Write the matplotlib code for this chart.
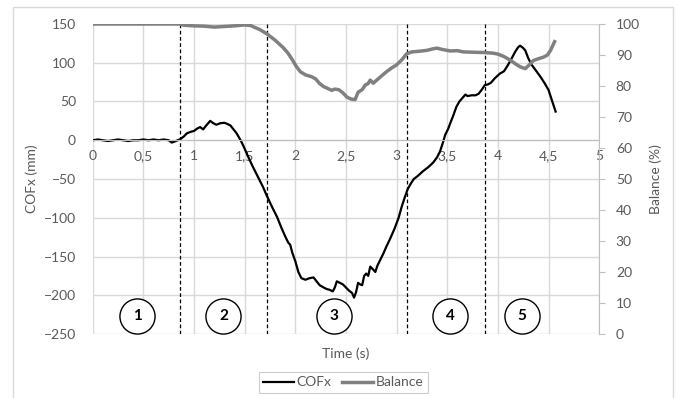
import matplotlib
matplotlib.use("Agg")
import matplotlib.pyplot as plt
from matplotlib.patches import Rectangle

plt.rcParams['font.family'] = ['Lato', 'DejaVu Sans']

# COFx (mm)
t_cofx = [0.00, 0.05, 0.10, 0.15, 0.20, 0.25, 0.30, 0.35, 0.40, 0.45, 0.50, 0.55, 0.60, 0.65,
          0.70, 0.75, 0.78, 0.82, 0.86, 0.90, 0.93, 0.97, 1.00, 1.03, 1.06, 1.09, 1.12, 1.16,
          1.19, 1.22, 1.26, 1.30, 1.33, 1.36, 1.39, 1.42, 1.46, 1.49, 1.53, 1.58, 1.63, 1.68,
          1.72, 1.77, 1.82, 1.86, 1.90, 1.93, 1.95, 1.97, 2.00, 2.03, 2.06, 2.10, 2.14, 2.18,
          2.21, 2.24, 2.28, 2.31, 2.34, 2.37, 2.39, 2.41, 2.44, 2.47, 2.50, 2.53, 2.56, 2.58,
          2.60, 2.62, 2.64, 2.66, 2.68, 2.70, 2.72, 2.74, 2.77, 2.79, 2.81, 2.84, 2.87, 2.90,
          2.94, 2.98, 3.02, 3.05, 3.08, 3.11, 3.14, 3.17, 3.21, 3.26, 3.31, 3.36, 3.40, 3.43,
          3.46, 3.48, 3.51, 3.53, 3.56, 3.59, 3.62, 3.66, 3.68, 3.70, 3.74, 3.78, 3.81, 3.84,
          3.87, 3.90, 3.93, 3.97, 4.02, 4.06, 4.09, 4.13, 4.17, 4.20, 4.22, 4.25, 4.27, 4.30,
          4.33, 4.37, 4.42, 4.46, 4.50, 4.53, 4.57]
cofx = [0, 1, 0, -1, 0, 1, 0, -1, 0, 0, 1, 0, 1, 0,
        1, 0, -3, -1, 1, 5, 9, 11, 12, 15, 17, 14, 19, 25,
        22, 20, 22, 22.5, 21, 19, 14, 9, 0, -8, -20, -34, -47, -60,
        -72, -86, -99, -112, -124, -132, -135, -145, -156, -170, -178, -180, -178, -177,
        -182, -187, -190, -192, -193, -195, -190, -182, -184, -186, -190, -194, -197, -203,
        -196, -184, -186, -187, -175, -172, -175, -163, -167, -170, -162, -154, -146, -137,
        -126, -114, -100, -86, -74, -63, -56, -50, -46, -40, -35, -29, -22, -14,
        -2, 7, 15, 22, 32, 43, 50, 56, 59, 57, 58, 58, 60, 65,
        71, 72, 74, 80, 86, 89, 95, 104, 114, 120, 122, 119, 116, 106,
        98, 91, 82, 74, 65, 53, 37]

# Balance (%)
t_bal = [0.00, 0.86, 0.90, 1.00, 1.10, 1.20, 1.30, 1.40, 1.50, 1.56, 1.60, 1.65, 1.72, 1.80,
         1.88, 1.93, 1.97, 2.01, 2.05, 2.10, 2.16, 2.20, 2.24, 2.28, 2.32, 2.36, 2.39, 2.43,
         2.47, 2.51, 2.55, 2.59, 2.62, 2.66, 2.69, 2.72, 2.74, 2.77, 2.80, 2.85, 2.90, 2.95,
         3.00, 3.05, 3.10, 3.15, 3.22, 3.30, 3.36, 3.40, 3.45, 3.53, 3.60, 3.66, 3.75, 3.86,
         3.95, 4.00, 4.06, 4.12, 4.18, 4.22, 4.27, 4.31, 4.35, 4.40, 4.45, 4.49, 4.52, 4.56]
balance = [100, 100, 99.6, 99.4, 99.3, 99.0, 99.2, 99.4, 99.7, 99.5, 98.9, 98.2, 96.8, 94.8,
           92.4, 90.5, 88.5, 86.3, 84.6, 83.6, 83.0, 82.3, 80.8, 79.8, 79.2, 78.6, 79.0, 78.8,
           77.8, 76.4, 75.8, 75.6, 78.0, 78.8, 80.3, 80.8, 81.9, 80.9, 81.8, 83.2, 84.6, 85.8,
           86.8, 88.4, 90.4, 91.0, 91.2, 91.5, 92.0, 92.2, 91.8, 91.3, 91.4, 91.0, 90.9, 90.8,
           90.6, 90.3, 89.5, 88.4, 87.0, 86.2, 85.6, 86.8, 88.2, 88.8, 89.3, 90.0, 91.5, 94.3]

phase_bounds = [0.862, 1.717, 3.106, 3.876]
phase_labels = ['1', '2', '3', '4', '5']
phase_x = [0.44, 1.29, 2.38, 3.53, 4.24]

tick_col = '#595959'
grid_col = '#d9d9d9'
fs = 10

fig = plt.figure(figsize=(6.77, 3.98), dpi=100)
ax = fig.add_axes([0.137, 0.1608, 0.748, 0.7789])
ax2 = ax.twinx()

# frame around the chart
fig.patches.append(Rectangle((0.0192, -0.02), 0.975, 1.0024, transform=fig.transFigure,
                             fill=False, edgecolor=grid_col, linewidth=1))

ax.plot(t_cofx, cofx, color='black', lw=1.6, label='COFx')
ax2.plot(t_bal, balance, color='#808080', lw=2.5, label='Balance')

for xb in phase_bounds:
    ax.axvline(xb, color='black', ls=(0, (3, 2)), lw=0.9)

ax.scatter(phase_x, [-227] * len(phase_x), s=640, facecolor='white', edgecolor='black',
           linewidth=1, zorder=4)
for xp, lab in zip(phase_x, phase_labels):
    ax.text(xp, -227, lab, ha='center', va='center', fontsize=11, fontweight='bold', zorder=5)

ax.set_xlim(0, 5)
ax.set_ylim(-250, 150)
ax.set_xticks([0, 0.5, 1, 1.5, 2, 2.5, 3, 3.5, 4, 4.5, 5])
ax.set_xticklabels(['0', '0,5', '1', '1,5', '2', '2,5', '3', '3,5', '4', '4,5', '5'])
ax.set_yticks(range(-250, 151, 50))
ax.grid(True, color=grid_col, lw=1)
ax.set_axisbelow(True)

for s in ['top', 'left', 'right']:
    ax.spines[s].set_visible(False)
ax.spines['bottom'].set_position(('data', 0))
ax.spines['bottom'].set_color('#bfbfbf')
ax.tick_params(axis='both', length=0, colors=tick_col, labelsize=fs)
ax.tick_params(axis='y', pad=12)
ax.tick_params(axis='x', pad=7)

ax2.set_ylim(0, 100)
ax2.set_yticks(range(0, 101, 10))
for s in ['top', 'left', 'bottom']:
    ax2.spines[s].set_visible(False)
ax2.spines['right'].set_color('#bfbfbf')
ax2.tick_params(axis='y', length=4, color='#bfbfbf', labelcolor=tick_col, labelsize=fs, pad=8)

ax.set_xlabel('Time (s)', color=tick_col, fontsize=fs)
ax.xaxis.set_label_coords(0.5, -0.045)
ax.set_ylabel('COFx (mm)', color=tick_col, fontsize=fs)
ax.yaxis.set_label_coords(-0.108, 0.5)
ax2.set_ylabel('Balance (%)', color=tick_col, fontsize=fs, rotation=90)
ax2.yaxis.set_label_coords(1.10, 0.5)

h1, l1 = ax.get_legend_handles_labels()
h2, l2 = ax2.get_legend_handles_labels()
leg = fig.legend(h1 + h2, l1 + l2, loc='center', bbox_to_anchor=(0.507, 0.039), ncol=2,
                 fontsize=fs, frameon=True, fancybox=False, edgecolor='#bfbfbf',
                 handlelength=2.2, columnspacing=0.8, handletextpad=0.2,
                 borderpad=0.3)
leg.get_frame().set_linewidth(0.8)
for txt in leg.get_texts():
    txt.set_color(tick_col)

fig.savefig('out.png', dpi=100)
